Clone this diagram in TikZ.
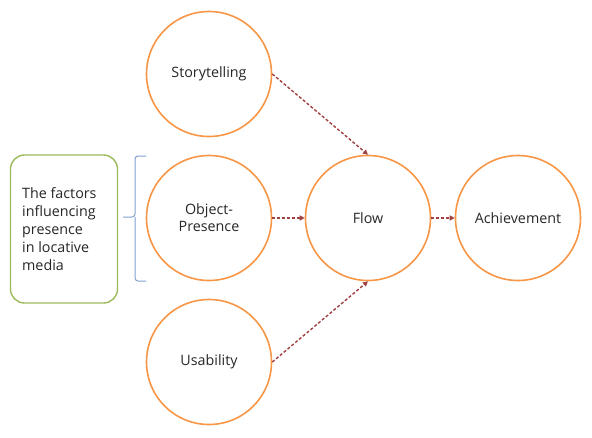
\documentclass[tikz,border=0pt]{standalone}
\usepackage{fontspec}
\setmainfont{Open Sans}
\usetikzlibrary{arrows.meta}
\definecolor{corange}{HTML}{F79646}
\definecolor{cgreen}{HTML}{9BBB59}
\definecolor{cblue}{HTML}{7F9FCF}
\definecolor{carrow}{HTML}{A04040}
\begin{document}
\begin{tikzpicture}[x=1pt,y=-1pt,
  circ/.style={circle,draw=corange,line width=1.6pt,minimum size=125pt,inner sep=0pt,align=center,font=\fontsize{14.3}{17}\selectfont,text=black!85},
  conn/.style={draw=carrow,line width=1.4pt,dash pattern=on 3pt off 2pt,-{Triangle[length=5pt,width=5pt]}},
  factor/.style={draw=cgreen,line width=1.4pt,rounded corners=14pt,minimum width=107pt,minimum height=148pt,inner sep=0pt},
  factxt/.style={font=\fontsize{14.3}{18}\selectfont,align=left,text=black!85,anchor=west,inner sep=0pt},
  bracestyle/.style={cblue,line width=1pt,rounded corners=3pt}]
\useasboundingbox (0,0) rectangle (592,437);
\node[circ] (story) at (209,74) {Storytelling};
\node[circ] (obj) at (209,218) {Object-\\Presence};
\node[circ] (usab) at (209,362) {Usability};
\node[circ] (flow) at (368,218) {Flow};
\node[circ] (ach) at (518,218) {Achievement};
\node[factor] (fac) at (64,229) {};
\node[factxt] (factxt) at (22,229) {The factors\\influencing\\presence\\in locative\\media};
\coordinate (btop) at (146,156);
\coordinate (bbot) at (146,281);
\coordinate (btip) at (123,217);
\draw[bracestyle] (btop) -- (135,156) -- (135,217) -- (btip);
\draw[bracestyle] (bbot) -- (135,281) -- (135,217);
\draw[conn] (story.east) -- (flow.north);
\draw[conn] (obj.east) -- (flow.west);
\draw[conn] (usab.east) -- (flow.south);
\draw[conn] (flow.east) -- (ach.west);
\end{tikzpicture}
\end{document}
